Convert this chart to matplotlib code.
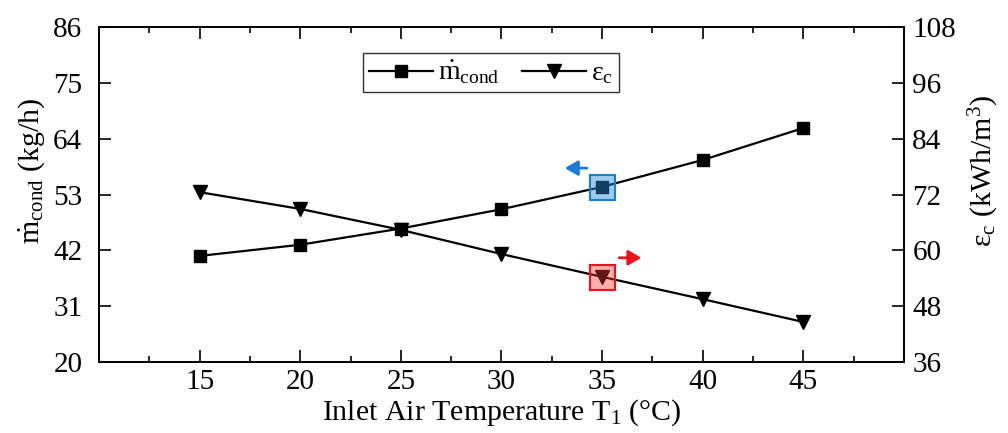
import matplotlib
matplotlib.use("Agg")
import matplotlib.pyplot as plt
from matplotlib.ticker import MultipleLocator

plt.rcParams["font.family"] = ["Liberation Serif", "DejaVu Serif"]
plt.rcParams["mathtext.fontset"] = "custom"
plt.rcParams["mathtext.rm"] = "Liberation Serif"
plt.rcParams["mathtext.it"] = "Liberation Serif:italic"

# inlet air temperature T1 (°C)
temps = [15, 20, 25, 30, 35, 40, 45]
# condensate mass flow rate (kg/h), left axis
m_cond = [40.9, 43.1, 46.3, 50.1, 54.5, 59.8, 66.1]
# specific energy consumption (kWh/m3), right axis
eps_c = [72.5, 68.9, 64.4, 59.2, 54.3, 49.5, 44.6]

highlight_t = 35
highlight_m = m_cond[temps.index(highlight_t)]
highlight_e = eps_c[temps.index(highlight_t)]

fig = plt.figure(figsize=(10.08, 4.33), dpi=100)
ax1 = fig.add_axes([0.0982, 0.164, 0.7986, 0.7736])
ax2 = ax1.twinx()

ax1.plot(temps, m_cond, color="black", lw=1.6, marker="s", ms=8.5,
         label=r"$\dot{\mathrm{m}}_{\mathrm{cond}}$")
ax2.plot(temps, eps_c, color="black", lw=1.6, marker="v", ms=10,
         label=r"$\mathrm{\varepsilon}_{\mathrm{c}}$")

# highlighted points with direction arrows toward their axis
ax1.plot([highlight_t], [highlight_m], marker="s", ms=18, ls="none",
         mfc=(0.13, 0.55, 0.85, 0.45), mec="#1a7fd4", mew=1.5, zorder=5)
ax2.plot([highlight_t], [highlight_e], marker="s", ms=18, ls="none",
         mfc=(1.0, 0.2, 0.2, 0.4), mec="#e8141b", mew=1.5, zorder=5)
arrow = dict(arrowstyle="-|>,head_length=0.6,head_width=0.35", lw=2.0,
             mutation_scale=13, shrinkA=0, shrinkB=0)
ax1.annotate("", xy=(33.15, 58.2), xytext=(34.25, 58.2),
             arrowprops=dict(arrow, color="#1a7fd4"))
ax2.annotate("", xy=(36.95, 58.4), xytext=(35.85, 58.4),
             arrowprops=dict(arrow, color="#e8141b"))

ax1.set_xlim(10, 50)
ax1.set_ylim(20, 86)
ax2.set_ylim(36, 108)
ax1.set_xticks([15, 20, 25, 30, 35, 40, 45])
ax1.xaxis.set_minor_locator(MultipleLocator(2.5))
ax1.set_yticks(range(20, 87, 11))
ax2.set_yticks(range(36, 109, 12))

for ax in (ax1, ax2):
    for s in ax.spines.values():
        s.set_linewidth(1.3)
ax1.tick_params(axis="x", which="major", direction="in", length=8.5, width=1.2,
                top=True, labelsize=21, pad=5)
ax1.tick_params(axis="x", which="minor", direction="in", length=4.5, width=1.2,
                top=True)
ax1.tick_params(axis="y", direction="in", length=8.5, width=1.2, labelsize=21, pad=12)
ax2.tick_params(axis="y", direction="in", length=8.5, width=1.2, labelsize=21, pad=6)

ax1.set_xlabel(r"Inlet Air Temperature T$_1$ (°C)", fontsize=21.5)
ax1.set_ylabel(r"$\dot{\mathrm{m}}_{\mathrm{cond}}$ (kg/h)", fontsize=21.5)
ax2.set_ylabel(r"$\mathrm{\varepsilon}_{\mathrm{c}}$ (kWh/m$^3$)", fontsize=21.5)
ax1.xaxis.set_label_coords(0.5, -0.105)
ax1.yaxis.set_label_coords(-0.065, 0.57)
ax2.yaxis.set_label_coords(1.078, 0.57)

h1, l1 = ax1.get_legend_handles_labels()
h2, l2 = ax2.get_legend_handles_labels()
leg = ax2.legend(h1 + h2, l1[:1] + l2[:1], ncol=2, loc="upper center",
                 bbox_to_anchor=(0.487, 0.921), borderaxespad=0, fontsize=20,
                 frameon=True, fancybox=False, edgecolor="black",
                 handlelength=2.3, columnspacing=0.8, borderpad=0.2,
                 handletextpad=0.2)
leg.get_frame().set_linewidth(1.0)

fig.savefig("out.png", dpi=100)
